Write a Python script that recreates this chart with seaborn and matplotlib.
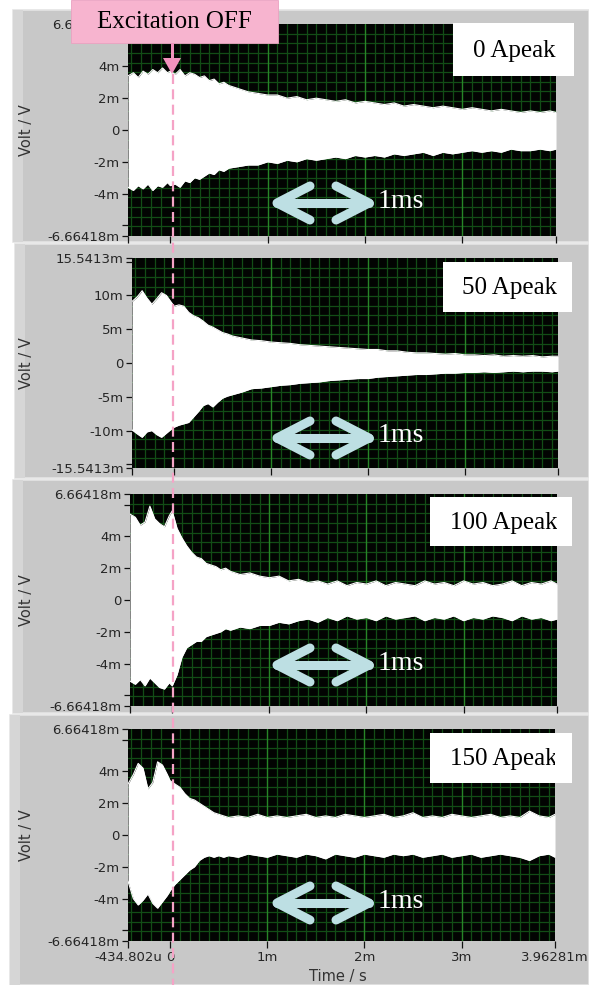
import numpy as np
import matplotlib
matplotlib.use('Agg')
import matplotlib.pyplot as plt
import seaborn as sns
from matplotlib.patches import Rectangle, Polygon
from matplotlib.lines import Line2D

# time in ms, envelopes in mV
t_ms = [-0.435, -0.38, -0.33, -0.28, -0.23, -0.18, -0.13, -0.08, -0.03, 0.0,
        0.05, 0.1, 0.15, 0.2, 0.25, 0.3, 0.35, 0.4, 0.45, 0.5, 0.55, 0.6,
        0.7, 0.8, 0.9, 1.0, 1.1, 1.2, 1.3, 1.4, 1.5, 1.6, 1.7, 1.8, 1.9, 2.0,
        2.1, 2.2, 2.3, 2.4, 2.5, 2.6, 2.7, 2.8, 2.9, 3.0, 3.1, 3.2, 3.3, 3.4,
        3.5, 3.6, 3.7, 3.8, 3.9, 3.963]

up_0 = [3.4, 3.6, 3.3, 3.7, 3.5, 3.8, 3.6, 3.9, 3.6, 3.7,
        3.5, 3.8, 3.4, 3.6, 3.5, 3.3, 3.4, 3.1, 3.2, 2.9, 3.0, 2.8,
        2.6, 2.4, 2.3, 2.2, 2.2, 2.0, 2.1, 1.9, 2.0, 1.9, 1.8, 1.9, 1.7, 1.8,
        1.7, 1.6, 1.7, 1.5, 1.6, 1.5, 1.4, 1.5, 1.4, 1.3, 1.4, 1.3, 1.2, 1.3,
        1.2, 1.1, 1.2, 1.1, 1.2, 1.1]
lo_0 = [-3.6, -3.8, -3.5, -3.7, -3.4, -3.8, -3.5, -3.6, -3.3, -3.5,
        -3.4, -3.6, -3.2, -3.3, -3.0, -3.1, -2.9, -2.7, -2.8, -2.5, -2.6, -2.4,
        -2.3, -2.2, -2.2, -2.0, -2.1, -1.9, -2.0, -1.8, -1.9, -1.8, -1.7, -1.8, -1.6, -1.7,
        -1.6, -1.7, -1.5, -1.6, -1.5, -1.4, -1.6, -1.4, -1.5, -1.4, -1.3, -1.4, -1.3, -1.4,
        -1.2, -1.3, -1.3, -1.2, -1.3, -1.2]

up_50 = [9.1, 9.8, 10.7, 9.6, 8.7, 9.5, 10.4, 10.0, 9.0, 8.4,
         8.6, 8.4, 7.5, 7.0, 6.7, 6.2, 5.6, 5.3, 4.9, 4.5, 4.3, 4.0,
         3.7, 3.4, 3.3, 3.1, 3.0, 2.9, 2.7, 2.6, 2.5, 2.4, 2.3, 2.2, 2.1, 2.0,
         2.0, 1.8, 1.8, 1.6, 1.5, 1.5, 1.4, 1.3, 1.4, 1.2, 1.2, 1.1, 1.2, 1.0,
         1.1, 1.0, 1.1, 0.9, 1.0, 1.0]
lo_50 = [-9.9, -10.5, -11.0, -10.2, -10.0, -10.6, -11.0, -10.4, -9.8, -9.5,
         -9.2, -9.0, -8.8, -8.0, -7.2, -6.3, -6.0, -6.5, -5.8, -5.2, -4.9, -4.7,
         -4.3, -3.8, -3.7, -3.5, -3.3, -3.2, -3.0, -2.9, -2.8, -2.6, -2.5, -2.4, -2.3, -2.3,
         -2.1, -2.0, -1.9, -1.8, -1.7, -1.7, -1.6, -1.5, -1.5, -1.4, -1.4, -1.3, -1.4, -1.3,
         -1.2, -1.3, -1.2, -1.2, -1.3, -1.2]

up_100 = [5.4, 5.2, 4.7, 4.9, 5.9, 5.1, 4.8, 4.6, 5.3, 5.6,
          4.5, 3.9, 3.4, 3.0, 2.7, 2.6, 2.3, 2.2, 2.1, 1.9, 2.0, 1.8,
          1.6, 1.7, 1.5, 1.4, 1.5, 1.2, 1.3, 1.1, 1.2, 1.0, 1.2, 0.9, 1.1, 1.0,
          1.2, 0.9, 1.1, 1.0, 0.9, 1.2, 1.0, 1.1, 0.9, 1.2, 1.0, 1.1, 0.9, 1.0,
          1.2, 0.9, 1.1, 1.0, 1.2, 1.0]
lo_100 = [-5.1, -5.3, -5.0, -5.4, -4.9, -5.2, -5.5, -5.6, -5.2, -5.4,
          -4.7, -3.6, -3.0, -2.8, -2.6, -2.6, -2.3, -2.2, -2.1, -2.0, -1.8, -1.9,
          -1.7, -1.8, -1.6, -1.6, -1.4, -1.5, -1.3, -1.2, -1.4, -1.1, -1.3, -1.0, -1.2, -1.1,
          -1.3, -1.0, -1.2, -1.1, -1.0, -1.3, -1.1, -1.2, -1.0, -1.3, -1.1, -1.2, -1.0, -1.1,
          -1.3, -1.0, -1.2, -1.1, -1.3, -1.2]

up_150 = [3.2, 3.8, 4.5, 4.2, 2.9, 3.3, 4.6, 4.4, 3.8, 3.4,
          3.2, 3.0, 2.6, 2.3, 2.2, 2.0, 1.8, 1.6, 1.4, 1.3, 1.2, 1.1,
          1.2, 1.1, 1.3, 1.1, 1.2, 1.1, 1.2, 1.3, 1.1, 1.2, 1.1, 1.3, 1.2, 1.1,
          1.2, 1.3, 1.1, 1.2, 1.4, 1.1, 1.2, 1.1, 1.3, 1.2, 1.1, 1.2, 1.3, 1.1,
          1.2, 1.1, 1.5, 1.2, 1.1, 1.3]
lo_150 = [-2.9, -4.0, -4.4, -4.1, -3.7, -4.3, -4.6, -4.2, -3.8, -3.5,
          -3.1, -2.8, -2.5, -2.2, -2.0, -1.6, -1.4, -1.3, -1.4, -1.3, -1.4, -1.3,
          -1.4, -1.2, -1.3, -1.4, -1.2, -1.3, -1.4, -1.2, -1.3, -1.5, -1.2, -1.3, -1.4, -1.2,
          -1.3, -1.4, -1.2, -1.3, -1.2, -1.4, -1.3, -1.2, -1.4, -1.3, -1.2, -1.4, -1.3, -1.2,
          -1.3, -1.4, -1.6, -1.3, -1.2, -1.4]

uppers = [up_0, up_50, up_100, up_150]
lowers = [lo_0, lo_50, lo_100, lo_150]
labels = ['0 Apeak', '50 Apeak', '100 Apeak', '150 Apeak']
y_lims = [6.66418, 15.5413, 6.66418, 6.66418]
y_ticks = [[-6.66418, -6, -4, -2, 0, 2, 4, 6, 6.66418],
           [-15.5413, -15, -10, -5, 0, 5, 10, 15, 15.5413],
           [-6.66418, -6, -4, -2, 0, 2, 4, 6, 6.66418],
           [-6.66418, -6, -4, -2, 0, 2, 4, 6, 6.66418]]
y_tick_text = [['-6.66418m', '', '-4m', '-2m', '0', '2m', '4m', '', '6.66418m'],
               ['-15.5413m', '', '-10m', '-5m', '0', '5m', '10m', '', '15.5413m'],
               ['-6.66418m', '', '-4m', '-2m', '0', '2m', '4m', '', '6.66418m'],
               ['-6.66418m', '', '-4m', '-2m', '0', '2m', '4m', '', '6.66418m']]
x_ticks = [-0.434802, 0, 1, 2, 3, 3.96281]
x_tick_text = ['-434.802u', '0', '1m', '2m', '3m', '3.96281m']

W, H = 589, 985
sns.set_style('dark')
plt.rcParams['font.family'] = ['DejaVu Sans']

fig = plt.figure(figsize=(W / 100, H / 100), dpi=100)
fig.patch.set_facecolor('white')


def fx(x):
    return x / W


def fy(y):
    return 1 - y / H


# pixel boxes: plot areas and gray panel frames
plot_px = [(128, 24, 556, 236), (132, 258, 558, 468), (130, 494, 557, 706), (128, 729, 555, 941)]
frame_px = [(13, 10, 589, 242), (15, 244, 589, 478), (13, 480, 589, 713), (10, 715, 589, 985)]
label_box = [(453, 23, 574, 76), (443, 262, 572, 312), (430, 497, 572, 546), (430, 733, 572, 783)]
label_x = [473, 462, 450, 450]
arrow_y = [203, 438, 665, 903]

serif = 'Liberation Serif'
green_minor = '#124d16'
green_major = '#278527'
arrow_col = '#bddfe3'

for i in range(4):
    l, t, r, b = frame_px[i]
    fig.add_artist(Rectangle((fx(l), fy(b)), fx(r - l), (b - t) / H, transform=fig.transFigure,
                             fc='#c8c8c8', ec='#e4e4e4', lw=1.2, zorder=-5))
    fig.add_artist(Rectangle((fx(l), fy(b)), fx(10), (b - t) / H, transform=fig.transFigure,
                             fc='#d6d6d6', lw=0, zorder=-4))

    l, t, r, b = plot_px[i]
    ax = fig.add_axes([fx(l), fy(b), fx(r - l), (b - t) / H])
    ax.set_facecolor('#020402')
    lim = y_lims[i]
    ax.set_xlim(-0.434802, 3.96281)
    ax.set_ylim(-lim, lim)

    ax.set_xticks(np.arange(-0.4, 3.95, 0.1), minor=True)
    ax.set_yticks(np.linspace(-lim, lim, 23), minor=True)
    ax.grid(which='minor', color=green_minor, lw=0.9)
    ax.grid(which='major', visible=False)
    for gx in [1, 2, 3]:
        ax.axvline(gx, color=green_major, lw=1.0, zorder=1)
    ax.set_axisbelow(True)

    ax.fill_between(t_ms, lowers[i], uppers[i], color='white', lw=0, zorder=3)
    sns.lineplot(x=t_ms, y=uppers[i], color='white', lw=0.8, ax=ax, zorder=3)
    sns.lineplot(x=t_ms, y=lowers[i], color='white', lw=0.8, ax=ax, zorder=3)

    ax.set_yticks(y_ticks[i])
    ax.set_yticklabels(y_tick_text[i], fontsize=9.5, color='#262626')
    ax.set_xticks(x_ticks)
    if i == 3:
        ax.set_xticklabels(x_tick_text, fontsize=9.5, color='#262626')
    else:
        ax.set_xticklabels([])
    ax.tick_params(axis='y', which='major', direction='out', length=4.5, width=0.9,
                   color='#111111', pad=1.5, left=True)
    ax.tick_params(axis='x', which='major', direction='out', length=5, width=0.9,
                   color='#111111', pad=2, bottom=True)
    ax.tick_params(which='minor', length=0)
    for s in ax.spines.values():
        s.set_visible(False)
    ax.set_xlabel('')
    ax.set_ylabel('')

    # white label box, text clipped at the plot edge
    bl, bt, br, bb = label_box[i]
    ax.add_patch(Rectangle((fx(bl), fy(bb)), fx(br - bl), (bb - bt) / H, transform=fig.transFigure,
                           fc='white', ec='none', clip_on=False, zorder=8))
    ax.text(fx(label_x[i]), fy((bt + bb) / 2 + 1), labels[i], transform=fig.transFigure,
            ha='left', va='center', fontsize=18, family=serif, color='black',
            zorder=9, clip_on=(i > 0))

    # 1 ms scale arrow: shaft plus two open chevrons
    ay = arrow_y[i]
    x0, x1, hl, hw = 277, 369, 33, 17
    arrow_lines = [([x0, x1], [ay, ay]),
                   ([x0 + hl, x0, x0 + hl], [ay - hw, ay, ay + hw]),
                   ([x1 - hl, x1, x1 - hl], [ay - hw, ay, ay + hw])]
    for xs, ys in arrow_lines:
        ax.add_line(Line2D([fx(v) for v in xs], [fy(v) for v in ys], transform=fig.transFigure,
                           color=arrow_col, lw=6.5, solid_capstyle='round',
                           solid_joinstyle='round', clip_on=False, zorder=7))
    ax.text(fx(378), fy(ay - 2), '1ms', transform=fig.transFigure, ha='left', va='center',
            fontsize=20, family=serif, color='white', zorder=9)

    fig.text(fx(27), fy((t + b) / 2), 'Volt / V', rotation=90, ha='center', va='center',
             fontsize=10.5, color='#333333')

fig.text(fx(338), fy(977), 'Time / s', ha='center', va='center', fontsize=10.5, color='#333333')

# excitation-off marker
pink = '#f7b4cf'
fig.add_artist(Rectangle((fx(71), fy(43)), fx(207), 43 / H, transform=fig.transFigure,
                         fc=pink, ec='#eaa2c1', lw=0.6, zorder=10))
fig.text(fx(174.5), fy(22), 'Excitation OFF', ha='center', va='center', fontsize=18,
         family=serif, color='black', zorder=11)
fig.add_artist(Rectangle((fx(170.5), fy(59)), fx(3), 16 / H, transform=fig.transFigure,
                         fc='#f291bd', lw=0, zorder=10))
fig.add_artist(Polygon([(fx(163), fy(58)), (fx(181), fy(58)), (fx(172), fy(74))],
                       closed=True, transform=fig.transFigure, fc='#f291bd', lw=0, zorder=10))
fig.add_artist(Line2D([fx(172.5), fx(172.5)], [fy(74), 0], transform=fig.transFigure,
                      color='#f5a3c6', lw=1.6, dashes=(4.5, 2.4), zorder=6))

fig.savefig('out.png', dpi=100, facecolor='white')
